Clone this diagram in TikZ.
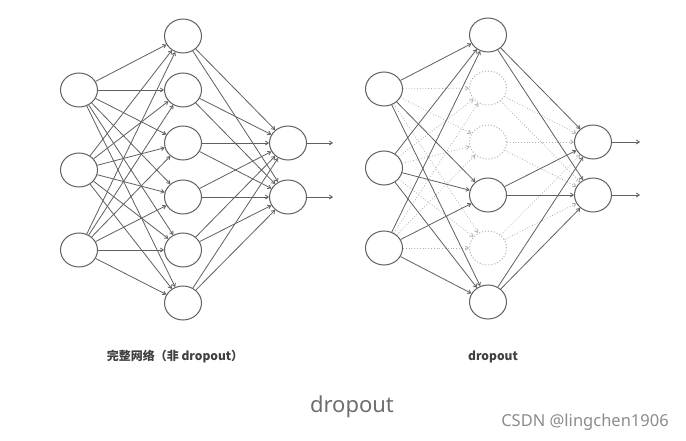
\documentclass[tikz,border=0pt]{standalone}
\usepackage{fontspec}
\usetikzlibrary{arrows.meta,shapes.geometric}
\newfontfamily\cjk{Noto Sans CJK SC}
\newfontfamily\notosans{Noto Sans}
\definecolor{linegray}{HTML}{606060}
\definecolor{dotgray}{HTML}{B0B0B0}
\definecolor{captiongray}{HTML}{6E6E6E}
\definecolor{markgray}{HTML}{8C8C8C}
\begin{document}
\begin{tikzpicture}[x=1pt,y=-1pt,
  neuron/.style={ellipse,draw=linegray,line width=1pt,minimum width=37pt,minimum height=34pt,inner sep=0pt,fill=white},
  dropneuron/.style={ellipse,draw=dotgray,dotted,line width=1pt,minimum width=37pt,minimum height=34pt,inner sep=0pt,fill=white},
  conn/.style={draw=linegray,line width=0.8pt,-{Straight Barb[length=3pt,width=4pt]}},
  dconn/.style={draw=dotgray,dotted,line width=0.8pt,-{Straight Barb[length=3pt,width=4pt]}},
  label/.style={font=\cjk\bfseries\fontsize{12}{14}\selectfont,text=black!75},
]
\fill[white] (0,0) rectangle (686,441);
\useasboundingbox (0,0) rectangle (686,441);

% ---------- left network ----------
\node[neuron] (i1) at (79,90) {};
\node[neuron] (i2) at (79,170) {};
\node[neuron] (i3) at (79,250) {};
\foreach \k/\y in {1/36,2/90,3/143,4/197,5/250,6/303}
  \node[neuron] (h\k) at (183,\y) {};
\node[neuron] (o1) at (288,143) {};
\node[neuron] (o2) at (288,197) {};
\coordinate (e1) at (333,143);
\coordinate (e2) at (333,197);

\foreach \a in {1,2,3}
  \foreach \b in {1,...,6}
    \draw[conn] (i\a) -- (h\b);
\foreach \b in {1,...,6}
  \foreach \c in {1,2}
    \draw[conn] (h\b) -- (o\c);
\draw[conn] (o1) -- (e1);
\draw[conn] (o2) -- (e2);

% ---------- right network ----------
\node[neuron] (ri1) at (384,89) {};
\node[neuron] (ri2) at (384,168) {};
\node[neuron] (ri3) at (384,248) {};
\node[neuron] (rh1) at (488,35) {};
\node[dropneuron] (rh2) at (488,88) {};
\node[dropneuron] (rh3) at (488,142) {};
\node[neuron] (rh4) at (488,195) {};
\node[dropneuron] (rh5) at (488,248) {};
\node[neuron] (rh6) at (488,302) {};
\node[neuron] (ro1) at (593,142) {};
\node[neuron] (ro2) at (593,195) {};
\coordinate (re1) at (640,142);
\coordinate (re2) at (640,195);

\foreach \a in {1,2,3}
  \foreach \b in {2,3,5}
    \draw[dconn] (ri\a) -- (rh\b);
\foreach \b in {2,3,5}
  \foreach \c in {1,2}
    \draw[dconn] (rh\b) -- (ro\c);
\foreach \a in {1,2,3}
  \foreach \b in {1,4,6}
    \draw[conn] (ri\a) -- (rh\b);
\foreach \b in {1,4,6}
  \foreach \c in {1,2}
    \draw[conn] (rh\b) -- (ro\c);
\draw[conn] (ro1) -- (re1);
\draw[conn] (ro2) -- (re2);

% ---------- texts ----------
\node[label] (lab1) at (175,357) {完整网络（非 dropout）};
\node[label] (lab2) at (493,357) {dropout};
\node[font=\notosans\fontsize{22}{26}\selectfont,text=captiongray] (cap) at (352,407) {dropout};
\node[font=\notosans\fontsize{16.5}{19}\selectfont,text=markgray] (mark) at (585,422) {CSDN @lingchen1906};
\end{tikzpicture}
\end{document}
